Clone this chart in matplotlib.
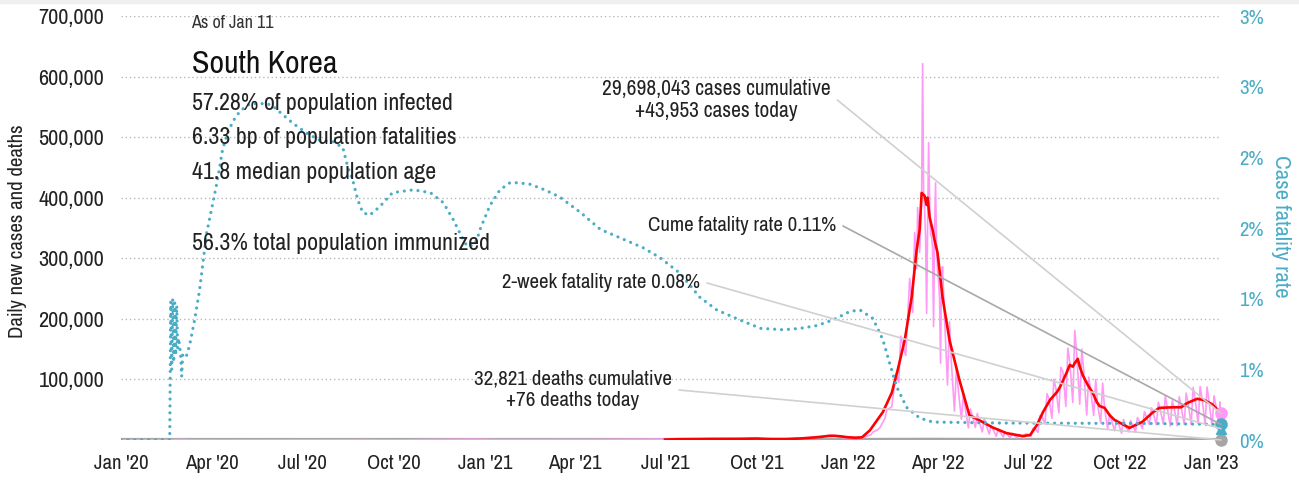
import numpy as np
import pandas as pd
import matplotlib
matplotlib.use("Agg")
import matplotlib.pyplot as plt
import matplotlib.dates as mdates
from matplotlib.ticker import FixedLocator, FuncFormatter
from matplotlib.patches import Rectangle

plt.rcParams['font.family'] = ['Archivo Narrow', 'DejaVu Sans']

# daily new cases, thousands (weekly lows / highs, daily around the March 2022 peak)
case_dates = [
    "2020-01-01", "2020-02-18", "2020-02-29", "2020-03-15", "2020-04-15", "2020-08-27",
    "2020-10-01", "2020-12-25", "2021-01-15", "2021-04-15", "2021-07-25", "2021-09-25",
    "2021-10-18", "2021-11-24", "2021-12-15", "2021-12-27",
    "2022-01-03", "2022-01-05", "2022-01-10", "2022-01-12", "2022-01-17", "2022-01-19",
    "2022-01-24", "2022-01-26", "2022-01-31", "2022-02-02", "2022-02-07", "2022-02-09",
    "2022-02-14", "2022-02-18", "2022-02-21", "2022-02-23", "2022-02-28", "2022-03-04",
    "2022-03-07", "2022-03-09", "2022-03-11", "2022-03-12", "2022-03-14", "2022-03-15",
    "2022-03-16", "2022-03-17", "2022-03-18", "2022-03-19", "2022-03-20", "2022-03-21",
    "2022-03-22", "2022-03-23", "2022-03-24", "2022-03-25", "2022-03-26", "2022-03-27",
    "2022-03-28", "2022-03-29", "2022-03-30", "2022-03-31", "2022-04-01", "2022-04-02",
    "2022-04-03", "2022-04-04", "2022-04-05", "2022-04-06", "2022-04-08", "2022-04-11",
    "2022-04-13", "2022-04-15", "2022-04-18", "2022-04-20", "2022-04-22", "2022-04-25",
    "2022-04-27", "2022-04-29", "2022-05-02", "2022-05-04", "2022-05-06", "2022-05-09",
    "2022-05-11", "2022-05-13", "2022-05-16", "2022-05-18", "2022-05-20", "2022-05-23",
    "2022-05-25", "2022-05-27", "2022-05-30", "2022-06-01", "2022-06-03", "2022-06-06",
    "2022-06-08", "2022-06-10", "2022-06-13", "2022-06-15", "2022-06-17", "2022-06-20",
    "2022-06-22", "2022-06-24", "2022-06-27", "2022-06-29", "2022-07-01", "2022-07-04",
    "2022-07-06", "2022-07-08", "2022-07-11", "2022-07-13", "2022-07-15", "2022-07-18",
    "2022-07-20", "2022-07-22", "2022-07-25", "2022-07-27", "2022-07-29", "2022-08-01",
    "2022-08-03", "2022-08-05", "2022-08-08", "2022-08-10", "2022-08-12", "2022-08-15",
    "2022-08-17", "2022-08-19", "2022-08-22", "2022-08-24", "2022-08-26", "2022-08-29",
    "2022-08-31", "2022-09-02", "2022-09-05", "2022-09-07", "2022-09-09", "2022-09-12",
    "2022-09-14", "2022-09-16", "2022-09-19", "2022-09-21", "2022-09-23", "2022-09-26",
    "2022-09-28", "2022-09-30", "2022-10-03", "2022-10-05", "2022-10-07", "2022-10-10",
    "2022-10-12", "2022-10-14", "2022-10-17", "2022-10-19", "2022-10-21", "2022-10-24",
    "2022-10-26", "2022-10-28", "2022-10-31", "2022-11-02", "2022-11-04", "2022-11-07",
    "2022-11-09", "2022-11-11", "2022-11-14", "2022-11-16", "2022-11-18", "2022-11-21",
    "2022-11-23", "2022-11-25", "2022-11-28", "2022-11-30", "2022-12-02", "2022-12-05",
    "2022-12-07", "2022-12-09", "2022-12-12", "2022-12-14", "2022-12-16", "2022-12-19",
    "2022-12-21", "2022-12-23", "2022-12-26", "2022-12-28", "2022-12-30", "2023-01-02",
    "2023-01-04", "2023-01-06", "2023-01-09", "2023-01-10", "2023-01-11",
]
new_cases_k = [
    0, 0, 0.9, 0.1, 0.03, 0.44,
    0.1, 1.24, 0.5, 0.7, 1.6, 3.3,
    1.1, 4.1, 7.8, 3.9,
    3.0, 4.4, 3.0, 4.4, 4.2, 5.8,
    8.6, 13.0, 17.1, 20.3, 35.3, 49.6,
    54.9, 109.0, 95.4, 171.4, 139.6, 266.8,
    210.7, 342.4, 282.9, 383.6, 309.7, 362.3,
    400.7, 621.3, 407.0, 381.4, 334.7, 209.2,
    353.9, 490.9, 395.6, 339.5, 335.6, 318.1,
    187.2, 347.5, 424.6, 320.7, 280.2, 264.1,
    234.3, 127.1, 266.1, 286.3, 205.3, 90.9,
    195.4, 125.8, 47.7, 118.5, 81.0, 34.3,
    76.7, 50.6, 20.0, 51.1, 40.0, 20.6,
    43.9, 29.6, 13.3, 35.9, 23.9, 9.9,
    23.9, 16.6, 6.1, 18.2, 12.5, 5.0,
    13.4, 9.3, 3.8, 11.1, 7.9, 3.5,
    9.3, 6.8, 3.4, 10.4, 9.5, 6.2,
    19.3, 19.3, 12.7, 40.2, 38.8, 26.3,
    76.4, 68.6, 35.8, 100.3, 85.2, 44.7,
    119.9, 112.9, 55.3, 151.7, 128.7, 62.0,
    180.8, 138.8, 59.0, 150.0, 113.3, 41.2,
    103.9, 81.5, 40.5, 99.8, 57.3, 28.2,
    93.9, 51.8, 18.6, 43.1, 32.4, 15.3,
    33.1, 27.1, 11.1, 34.0, 23.6, 13.5,
    32.0, 24.7, 13.1, 37.1, 30.4, 18.5,
    47.0, 37.8, 25.4, 53.0, 43.5, 24.8,
    62.3, 48.8, 26.6, 72.8, 52.7, 23.1,
    64.6, 51.8, 23.6, 71.4, 54.3, 25.7,
    77.6, 61.0, 25.6, 86.8, 67.4, 26.6,
    88.1, 68.1, 25.5, 87.5, 63.6, 22.7,
    73.0, 55.5, 19.2, 62.7, 43.953,
]

# 7-day average of new cases, thousands
avg_dates = [
    "2021-07-01", "2021-07-15", "2021-08-01", "2021-08-15", "2021-09-01", "2021-09-15",
    "2021-10-01", "2021-10-15", "2021-11-01", "2021-11-15", "2021-11-25", "2021-12-05",
    "2021-12-12", "2021-12-18", "2021-12-25", "2022-01-01", "2022-01-08", "2022-01-15",
    "2022-01-23", "2022-02-05", "2022-02-14", "2022-02-20", "2022-02-27", "2022-03-06",
    "2022-03-11", "2022-03-14", "2022-03-16", "2022-03-19", "2022-03-21", "2022-03-22",
    "2022-03-24", "2022-03-27", "2022-03-29", "2022-04-01", "2022-04-06", "2022-04-13",
    "2022-04-23", "2022-05-03", "2022-05-16", "2022-05-26", "2022-06-09", "2022-06-25",
    "2022-07-03", "2022-07-10", "2022-07-16", "2022-07-23", "2022-07-30", "2022-08-02",
    "2022-08-09", "2022-08-12", "2022-08-15", "2022-08-17", "2022-08-20", "2022-08-22",
    "2022-08-25", "2022-08-30", "2022-09-04", "2022-09-08", "2022-09-11", "2022-09-16",
    "2022-09-21", "2022-09-26", "2022-10-03", "2022-10-11", "2022-10-24", "2022-11-03",
    "2022-11-10", "2022-11-23", "2022-12-02", "2022-12-08", "2022-12-18", "2022-12-25",
    "2023-01-02", "2023-01-09", "2023-01-11",
]
avg_cases_k = [
    0.8, 1.4, 1.6, 1.8, 1.8, 1.8,
    2.4, 1.6, 1.6, 2.6, 3.8, 5.2,
    6.7, 7.0, 6.0, 4.5, 3.8, 4.4,
    16, 46, 78, 116, 165, 236,
    314, 347, 408, 403, 388, 400,
    368, 347, 330, 309, 236, 165,
    99, 41, 30, 21, 11.5, 6.6,
    8, 25, 46, 66, 79, 87,
    112, 124, 121, 127, 134, 121,
    107, 91, 78, 63, 56, 53,
    41, 33, 27, 20, 30, 45,
    53, 54, 54, 61, 68, 66,
    59, 48, 46,
]

# daily deaths
death_dates = ["2020-01-01", "2020-03-15", "2020-09-01", "2020-12-25", "2021-06-01",
               "2021-12-20", "2022-03-25", "2022-06-15", "2022-08-25", "2022-12-20",
               "2023-01-11"]
new_deaths = [0, 5, 3, 20, 3, 80, 360, 10, 70, 50, 76]

# cumulative case fatality rate, %
cfr_dates = [
    "2020-01-01", "2020-02-19", "2020-02-20", "2020-02-21", "2020-02-22", "2020-02-23",
    "2020-02-24", "2020-02-25", "2020-02-26", "2020-02-27", "2020-02-28", "2020-03-01",
    "2020-03-02", "2020-03-03", "2020-03-05", "2020-03-07", "2020-03-10", "2020-03-15",
    "2020-03-20", "2020-03-27", "2020-04-03", "2020-04-07", "2020-04-12", "2020-04-17",
    "2020-04-23", "2020-04-30", "2020-05-10", "2020-05-27", "2020-06-02", "2020-06-12",
    "2020-06-22", "2020-07-06", "2020-07-19", "2020-08-01", "2020-08-11", "2020-08-16",
    "2020-08-21", "2020-08-26", "2020-08-31", "2020-09-07", "2020-09-17", "2020-09-30",
    "2020-10-21", "2020-11-07", "2020-11-20", "2020-11-30", "2020-12-07", "2020-12-14",
    "2020-12-21", "2020-12-24", "2020-12-27", "2021-01-06", "2021-01-16", "2021-01-26",
    "2021-02-03", "2021-02-15", "2021-03-02", "2021-03-17", "2021-04-07", "2021-04-27",
    "2021-05-17", "2021-06-09", "2021-06-26", "2021-07-16", "2021-08-05", "2021-08-22",
    "2021-09-14", "2021-10-05", "2021-10-28", "2021-11-14", "2021-12-01", "2021-12-17",
    "2022-01-03", "2022-01-13", "2022-01-26", "2022-02-05", "2022-02-12", "2022-02-19",
    "2022-03-01", "2022-03-14", "2022-03-27", "2022-06-03", "2022-11-01", "2023-01-11",
]
cfr_pct = [
    0, 0, 0.98, 0.50, 1.00, 0.55,
    0.97, 0.60, 0.95, 0.65, 0.72, 0.60,
    0.45, 0.60, 0.58, 0.60, 0.67, 0.85,
    1.06, 1.46, 1.70, 1.84, 2.05, 2.17,
    2.26, 2.33, 2.38, 2.38, 2.36, 2.30,
    2.24, 2.17, 2.12, 2.11, 2.07, 1.93,
    1.84, 1.70, 1.61, 1.59, 1.65, 1.75,
    1.77, 1.75, 1.68, 1.56, 1.46, 1.37,
    1.38, 1.42, 1.49, 1.66, 1.77, 1.82,
    1.82, 1.81, 1.77, 1.72, 1.61, 1.49,
    1.43, 1.36, 1.29, 1.18, 1.01, 0.92,
    0.85, 0.79, 0.78, 0.79, 0.81, 0.85,
    0.91, 0.92, 0.86, 0.71, 0.54, 0.375,
    0.23, 0.156, 0.127, 0.12, 0.117, 0.11,
]

last_day = "2023-01-11"
cases_today = 43953
deaths_today = 76
cume_cfr = 0.11
two_week_cfr = 0.08

pink = '#ff99f5'
red = '#ff0000'
cyan = '#4bacc6'
gray = '#a6a6a6'
ink = '#222222'

W, H = 1299, 480
fig = plt.figure(figsize=(W / 100, H / 100), dpi=100)
fig.patches.append(Rectangle((0, 1 - 3 / H), 1, 3 / H, transform=fig.transFigure,
                             color='#efefef', zorder=0))
ax = fig.add_axes([121 / W, 40 / H, 1100 / W, 424 / H])
ax2 = ax.twinx()

cd = pd.to_datetime(case_dates)
ad = pd.to_datetime(avg_dates)
dd = pd.to_datetime(death_dates)
fd = pd.to_datetime(cfr_dates)
end = pd.Timestamp(last_day)

ax.plot(dd, new_deaths, color=gray, lw=3, zorder=2, solid_capstyle='butt')
ax.plot(cd, np.array(new_cases_k) * 1000, color=pink, lw=1.2, zorder=3)
ax.plot(ad, np.array(avg_cases_k) * 1000, color=red, lw=1.9, zorder=4)
ax2.plot(fd, cfr_pct, color=cyan, lw=2.3, linestyle=(0, (0.01, 2.15)),
         dash_capstyle='round', zorder=2)

# end-of-series markers
ax.plot([end], [cases_today], 'o', color=pink, ms=8, clip_on=False, zorder=5)
ax.plot([end], [deaths_today], 'o', color=gray, ms=8, clip_on=False, zorder=5)
ax2.plot([end], [two_week_cfr], '^', color=cyan, ms=7, clip_on=False, zorder=5)
ax2.plot([end], [cume_cfr], 'o', color=cyan, ms=8, clip_on=False, zorder=6)

ax.set_xlim(pd.Timestamp("2020-01-01"), end)
ax.set_ylim(0, 700000)
ax2.set_ylim(0, 3)

ax.yaxis.set_major_locator(FixedLocator(np.arange(100000, 700001, 100000)))
ax.yaxis.set_major_formatter(FuncFormatter(lambda v, p: f"{v:,.0f}"))
ax.grid(axis='y', linestyle=(0, (1, 2)), color='#b8b8b8', lw=1)
ax.set_axisbelow(True)

r_ticks = [0, 0.5, 1, 1.5, 2, 2.5, 3]
r_labels = ['0%', '1%', '1%', '2%', '2%', '3%', '3%']
ax2.set_yticks(r_ticks)
ax2.set_yticklabels(r_labels)

ax.xaxis.set_major_locator(mdates.MonthLocator(bymonth=[1, 4, 7, 10]))
ax.xaxis.set_major_formatter(mdates.DateFormatter("%b '%y"))

for a in (ax, ax2):
    for s in a.spines.values():
        s.set_visible(False)
ax.tick_params(axis='both', length=0, labelsize=15, labelcolor=ink)
ax.tick_params(axis='y', pad=12, labelsize=16)
ax.tick_params(axis='x', pad=10)
ax2.tick_params(axis='y', length=0, labelsize=15, labelcolor=cyan, pad=13)

fig.text(18 / W, 1 - 231 / H, "Daily new cases and deaths", rotation=90,
         ha='center', va='center', fontsize=15, color=ink)
fig.text(1281 / W, 1 - 226 / H, "Case fatality rate", rotation=270,
         ha='center', va='center', fontsize=16.5, color=cyan)

# summary block
fig.text(191 / W, 1 - 28 / H, "As of Jan 11", fontsize=13, color='#333333', va='baseline')
fig.text(192 / W, 1 - 73 / H, "South Korea", fontsize=23, color='#111111', va='baseline')
info = [("57.28% of population infected", 110),
        ("6.33 bp of population fatalities", 144),
        ("41.8 median population age", 179),
        ("56.3% total population immunized", 250)]
for txt, yb in info:
    fig.text(192 / W, 1 - yb / H, txt, fontsize=17.2, color=ink, va='baseline')


def axfrac(px, py):
    return ((px - 121) / 1100, (440 - py) / 424)


endx = mdates.date2num(end)
notes = [
    ("29,698,043 cases cumulative\n+43,953 cases today", (endx, cases_today), ax.transData,
     axfrac(716, 100), 'center', '#d0d0d0', 15.4),
    ("Cume fatality rate 0.11%", (endx, cume_cfr), ax2.transData,
     axfrac(836, 226), 'right', '#a8a8a8', 15),
    ("2-week fatality rate 0.08%", (endx, two_week_cfr), ax2.transData,
     axfrac(700, 283), 'right', '#d0d0d0', 15),
    ("32,821 deaths cumulative\n+76 deaths today", (endx, deaths_today), ax.transData,
     axfrac(573, 390), 'center', '#d0d0d0', 15.2),
]
for txt, xy, trans, pos, ha, lc, fs in notes:
    ax2.annotate(txt, xy=xy, xycoords=trans, xytext=pos, textcoords='axes fraction',
                 ha=ha, va='center', multialignment='center', fontsize=fs, color=ink,
                 linespacing=1.15, zorder=7, annotation_clip=False,
                 arrowprops=dict(arrowstyle='-', color=lc, lw=1.2, relpos=(1, 0.5),
                                 shrinkA=3, shrinkB=0,
                                 connectionstyle='arc,angleA=0,armA=7,angleB=0,armB=0,rad=0'))

fig.savefig('out.png', dpi=100)
